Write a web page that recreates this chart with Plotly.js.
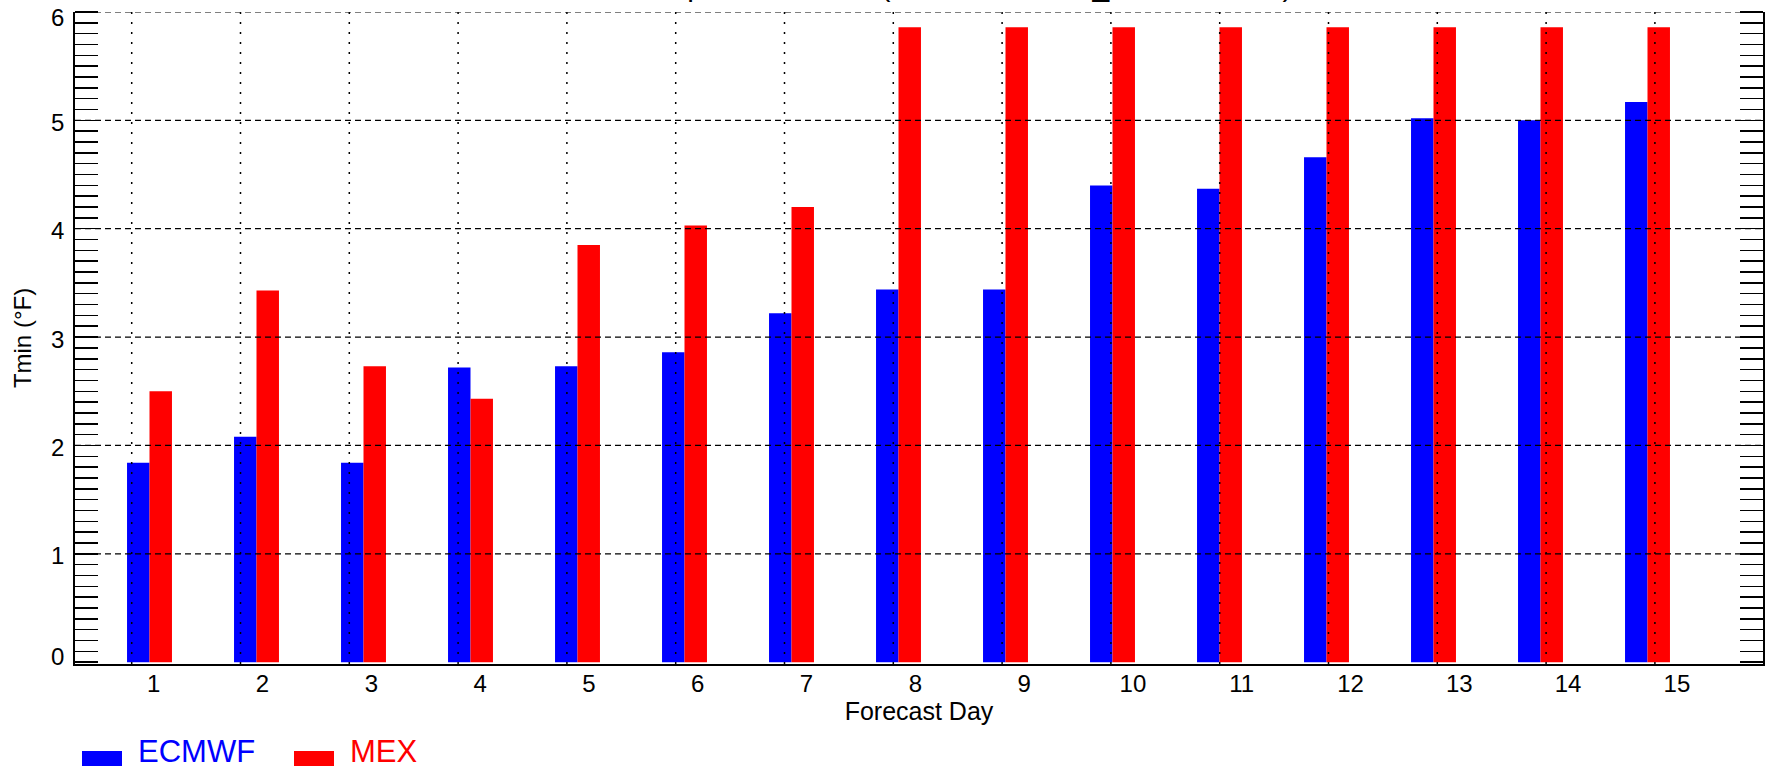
<!DOCTYPE html>
<html>
<head>
<meta charset="utf-8">
<script src="https://cdn.plot.ly/plotly-3.0.1.min.js"></script>
<style>html,body{margin:0;padding:0;background:#fff;}#chart{width:1765px;height:770px;}</style>
</head>
<body>
<div id="chart"></div>
<script>
// ---- data ----
const days = [1, 2, 3, 4, 5, 6, 7, 8, 9, 10, 11, 12, 13, 14, 15];
const dayLabels = ['1','2','3','4','5','6','7','8','9','10','11','12','13','14','15'];
const ecmwf = [1.84, 2.08, 1.84, 2.72, 2.73, 2.86, 3.22, 3.44, 3.44, 4.40, 4.37, 4.66, 5.02, 5.00, 5.17];
const mex   = [2.50, 3.43, 2.73, 2.43, 3.85, 4.03, 4.20, 5.86, 5.86, 5.86, 5.86, 5.86, 5.86, 5.86, 5.86];
const seriesNames = ['ECMWF', 'MEX'];
const seriesColors = ['#0000ff', '#ff0000'];
const yTickVals = [0, 1, 2, 3, 4, 5, 6];
const yTickText = ['0', '1', '2', '3', '4', '5', '6'];
const yTitle = 'Tmin (°F)';
const xTitle = 'Forecast Day';
const chartTitle = 'Minimum Temperature MAE (Station 727930_DJF 2016-17)';

// ---- geometry helpers (layout only) ----
const W = 1765, H = 770;
const M = {l: 75, r: 2, t: 12, b: 106};
const plotW = W - M.l - M.r, plotH = H - M.t - M.b;
const px2x = p => (p - M.l) / plotW;
const py2y = p => (H - M.b - p) / plotH;
const FONT = 'Liberation Sans, Arial, Helvetica, sans-serif';
const Y_MIN = -0.017, Y_MAX = 6;

const traces = [
  {type: 'bar', x: days, y: ecmwf, name: seriesNames[0], marker: {color: seriesColors[0], line: {width: 0}}, xaxis: 'x', yaxis: 'y', hoverinfo: 'x+y+name'},
  {type: 'bar', x: days, y: mex, name: seriesNames[1], marker: {color: seriesColors[1], line: {width: 0}}, xaxis: 'x', yaxis: 'y', hoverinfo: 'x+y+name'}
];

// small bottom ticks (IDL minor ticks), two interleaved sets
const ticksAbove = [], ticksBelow = [];
for (let p = 131; p < M.l + plotW; p += 137.8) ticksAbove.push(p);
for (let p = 103.4; p < M.l + plotW; p += 137.8) ticksBelow.push(p);

const shapes = [];
// horizontal dashed grid
yTickVals.filter(v => v > 0).forEach(v => {
  shapes.push({type: 'line', layer: 'above', xref: 'paper', yref: 'y', x0: 0, x1: 1, y0: v, y1: v,
    line: {color: '#000', width: 1.2, dash: '6px,4px'}});
});
// vertical dotted grid
days.forEach(d => {
  shapes.push({type: 'line', layer: 'above', xref: 'x2', yref: 'paper', x0: d, x1: d, y0: 0, y1: 1,
    line: {color: '#000', width: 1.5, dash: '2px,8px'}});
});

const annotations = [];
// y tick labels (IDL style: end labels nudged inside the frame)
yTickVals.forEach((v, i) => {
  const shift = v === Y_MAX ? -5 : (v === 0 ? 6 : -2);
  annotations.push({xref: 'paper', yref: 'y', x: 0, y: v, xanchor: 'right', yanchor: 'middle', xshift: -9, yshift: shift,
    text: yTickText[i], showarrow: false, font: {family: FONT, size: 24, color: '#000'}});
});
// manual legend
seriesNames.forEach((name, i) => {
  const x0 = 82 + 212 * i;
  shapes.push({type: 'rect', xref: 'paper', yref: 'paper', x0: px2x(x0), x1: px2x(x0 + 40), y0: py2y(766), y1: py2y(751),
    fillcolor: seriesColors[i], line: {width: 0}});
  annotations.push({xref: 'paper', yref: 'paper', x: px2x(x0 + 54), y: py2y(751), xanchor: 'left', yanchor: 'middle',
    text: name, showarrow: false, font: {family: FONT, size: 31, color: seriesColors[i]}});
});
// title (mostly above the visible canvas, as in the reference)
annotations.push({xref: 'paper', yref: 'paper', x: px2x(500), y: 1, xanchor: 'left', yanchor: 'bottom', yshift: 9,
  borderpad: 0, text: chartTitle, showarrow: false, font: {family: FONT, size: 30, color: '#000'}});

const layout = {
  width: W, height: H,
  margin: M,
  paper_bgcolor: '#fff', plot_bgcolor: '#fff',
  showlegend: false,
  barmode: 'group', bargap: 0.58, bargroupgap: 0,
  font: {family: FONT, size: 24, color: '#000'},
  xaxis: {range: [0.3037, 16.0794], showline: true, linecolor: '#000', linewidth: 2, mirror: false,
    ticks: '', showticklabels: false, showgrid: false, zeroline: false},
  xaxis2: {overlaying: 'x', anchor: 'y', side: 'bottom', range: [0.4789, 15.9936],
    tickmode: 'array', tickvals: days.map(d => d + 0.2022), ticktext: dayLabels,
    ticks: '', showgrid: false, showline: false, zeroline: false, ticklabelstandoff: 3,
    tickfont: {family: FONT, size: 24, color: '#000'},
    title: {text: xTitle, font: {family: FONT, size: 25, color: '#000'}, standoff: 6}},
  xaxis3: {overlaying: 'x', anchor: 'y', range: [M.l, M.l + plotW], tickmode: 'array', tickvals: ticksAbove,
    ticks: 'inside', ticklen: 12, tickwidth: 1.5, tickcolor: '#222', showticklabels: false,
    showgrid: false, showline: false, zeroline: false, layer: 'above traces'},
  xaxis4: {overlaying: 'x', anchor: 'y', range: [M.l, M.l + plotW], tickmode: 'array', tickvals: ticksBelow,
    ticks: 'inside', ticklen: 12, tickwidth: 1.5, tickcolor: '#222', showticklabels: false,
    showgrid: false, showline: false, zeroline: false, layer: 'below traces'},
  yaxis: {range: [Y_MIN, Y_MAX], tickmode: 'array', tickvals: yTickVals,
    ticks: '', showticklabels: false, showline: true, linecolor: '#000', linewidth: 2, mirror: 'ticks',
    showgrid: false, zeroline: false,
    minor: {tickmode: 'linear', tick0: 0, dtick: 0.1, ticks: 'inside', ticklen: 23, tickwidth: 1.5, tickcolor: '#000', showgrid: false},
    title: {text: yTitle, font: {family: FONT, size: 24, color: '#000'}, standoff: 35}},
  shapes: shapes,
  annotations: annotations
};

Plotly.newPlot('chart', traces, layout, {displayModeBar: false, staticPlot: true});
</script>
</body>
</html>
